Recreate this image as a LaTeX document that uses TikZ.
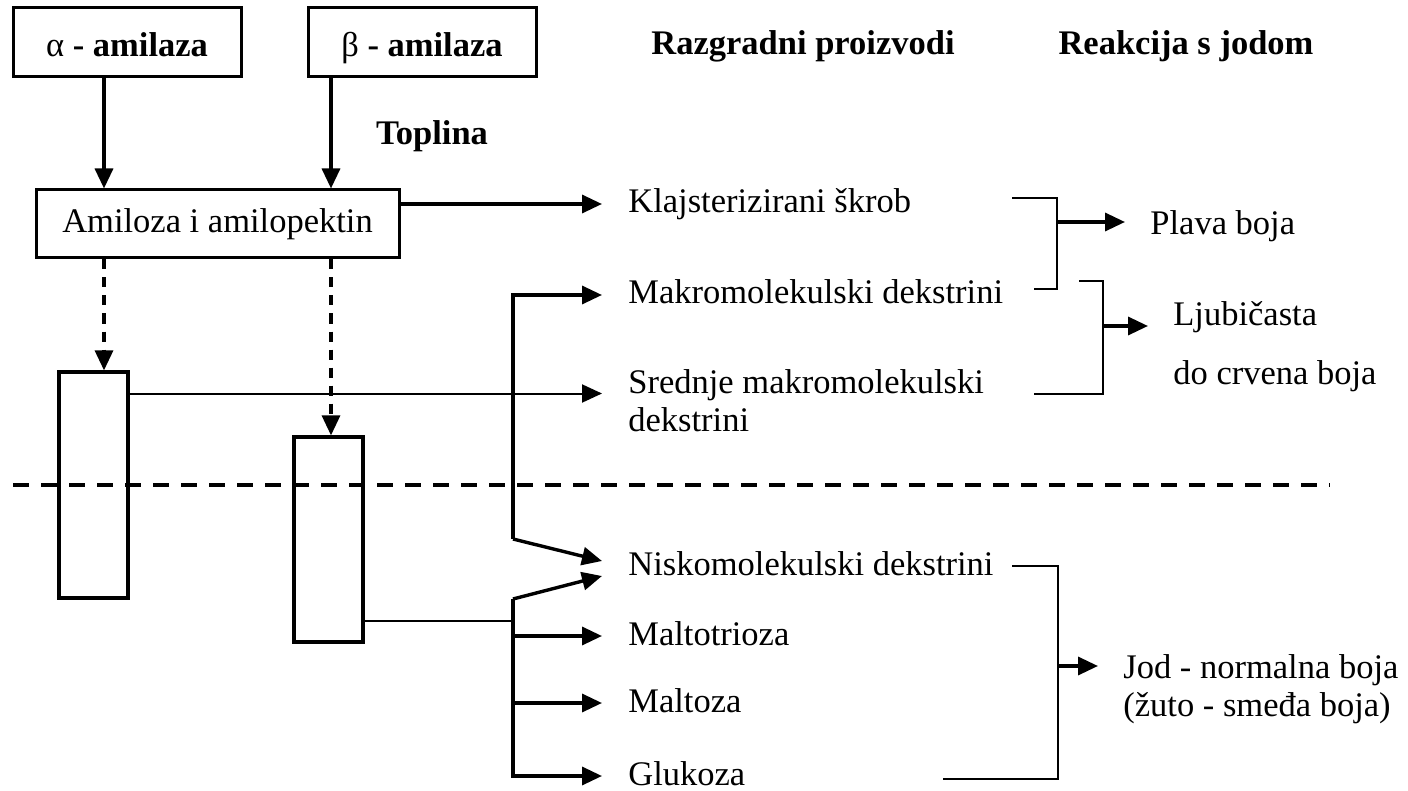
\documentclass[tikz,border=0pt]{standalone}
\usepackage{fontspec}
\setmainfont{Liberation Serif}
\usetikzlibrary{arrows.meta, positioning}
\newcommand{\tekst}{\fontsize{17.25}{19}\selectfont}
\tikzset{
  enzim/.style={rectangle, draw, line width=1.5pt, minimum width=114pt, minimum height=34.5pt, inner sep=0pt, text height=15pt, text depth=0.5pt, font=\tekst\bfseries},
  supstrat/.style={rectangle, draw, line width=1.5pt, minimum width=181.5pt, minimum height=34pt, inner sep=0pt},
  stupac/.style={rectangle, draw, line width=1.6pt, minimum width=34.5pt, inner sep=0pt},
  naslov/.style={inner sep=0pt, font=\tekst\bfseries},
  proizvod/.style={anchor=west, inner xsep=13pt, inner ysep=0pt, text height=12pt, text depth=3pt},
  viseredni/.style={anchor=north west, inner xsep=12.5pt, inner ysep=0pt, align=left},
  debela/.style={line width=1.7pt},
  tanka/.style={line width=1pt},
  vrh/.style={-{Triangle[length=10pt,width=9pt]}},
  crtkana/.style={line width=1.6pt, dash pattern=on 5pt off 4pt},
  granica/.style={line width=2pt, dash pattern=on 8pt off 6pt}
}

\begin{document}
\begin{tikzpicture}[x=0.5pt, y=-0.5pt, font=\tekst]
  \useasboundingbox (0,0) rectangle (1408,791);

  % Enzimi i supstrat
  \node (alfa) [enzim] at (127,42.5) {{\mdseries α} - amilaza};
  \node (beta) [enzim] at (422,42.5) {{\mdseries β} - amilaza};
  \node (amiloza) [supstrat] at (217.5,224) {Amiloza i amilopektin};
  \node (toplina) [naslov, anchor=base] at (432,145) {Toplina};

  % Stupci
  \node (alfaStupac) [stupac, minimum height=113pt] at (93.5,485) {};
  \node (betaStupac) [stupac, minimum height=102.5pt] at (328.5,539.5) {};

  % Naslovi stupaca
  \node (razgradni) [naslov, anchor=base] at (803,55) {Razgradni proizvodi};
  \node (reakcija) [naslov, anchor=base] at (1186,55) {Reakcija s jodom};

  % Razgradni proizvodi
  \node (klaj) [proizvod] at (602,204) {Klajsterizirani škrob};
  \node (makro) [proizvod] at (602,295) {Makromolekulski dekstrini};
  \node (srednje) [viseredni, inner xsep=13pt] at (602,369.5) {Srednje makromolekulski\\dekstrini};
  \node (nisko) [proizvod] at (602,566) {Niskomolekulski dekstrini};
  \node (maltotrioza) [proizvod] at (602,636) {Maltotrioza};
  \node (maltoza) [proizvod] at (602,703) {Maltoza};
  \node (glukoza) [proizvod] at (602,776) {Glukoza};

  % Reakcija s jodom
  \node (plava) [proizvod, inner xsep=12.5pt] at (1125,226) {Plava boja};
  \node (ljub) [viseredni] at (1148,301.5) {Ljubičasta\\[10.5pt]do crvena boja};
  \node (jod) [viseredni] at (1098,654.5) {Jod - normalna boja\\(žuto - smeđa boja)};

  % Tocke grananja
  \coordinate (uSrednje) at ([yshift=-12pt]srednje.north west);
  \coordinate (gore) at (513,539);
  \coordinate (dolje) at (513,599);
  \coordinate (grana) at (513,621);
  \coordinate (spojPlava) at (1057,222);
  \coordinate (spojLjub) at (1103,326);
  \coordinate (spojJod) at (1058,666);

  % Granica
  \draw [granica] (13,485) -- (1330,485);

  % Strelice od enzima
  \draw [debela, vrh] ([xshift=-11.5pt]alfa.south) -- ([xshift=-11.5pt]alfa.south |- amiloza.north);
  \draw [debela, vrh] ([xshift=-45.5pt]beta.south) -- ([xshift=-45.5pt]beta.south |- amiloza.north);
  \draw [crtkana, vrh] ([xshift=-11.5pt]alfa.south |- amiloza.south) -- ([xshift=-11.5pt]alfa.south |- alfaStupac.north);
  \draw [crtkana, vrh] ([xshift=-45.5pt]beta.south |- amiloza.south) -- ([xshift=-45.5pt]beta.south |- betaStupac.north);

  % Strelice prema proizvodima
  \draw [debela, vrh] (amiloza.east |- klaj.west) -- (klaj.west);
  \draw [tanka, vrh] (alfaStupac.east |- uSrednje) -- (uSrednje);
  \draw [debela, vrh] (gore) |- (makro.west);
  \draw [debela, vrh] (gore) -- ([yshift=2.5pt]nisko.west);
  \draw [tanka] (betaStupac.east |- grana) -- (grana);
  \draw [debela, vrh] (dolje) -- ([yshift=-5pt]nisko.west);
  \draw [debela, vrh] (dolje) |- (glukoza.west);
  \draw [debela, vrh] (dolje |- maltotrioza.west) -- (maltotrioza.west);
  \draw [debela, vrh] (dolje |- maltoza.west) -- (maltoza.west);

  % Zagrade i boje
  \draw [tanka] (1012,198) -| (spojPlava) |- (1034,289);
  \draw [debela, vrh] (spojPlava) -- (plava.west |- spojPlava);
  \draw [tanka] (1079,281) -| (spojLjub) |- (1034,394);
  \draw [debela, vrh] (spojLjub) -- (ljub.west |- spojLjub);
  \draw [tanka] (1012,566) -| (spojJod) |- (943,779);
  \draw [debela, vrh] (spojJod) -- (jod.west |- spojJod);

\end{tikzpicture}
\end{document}
